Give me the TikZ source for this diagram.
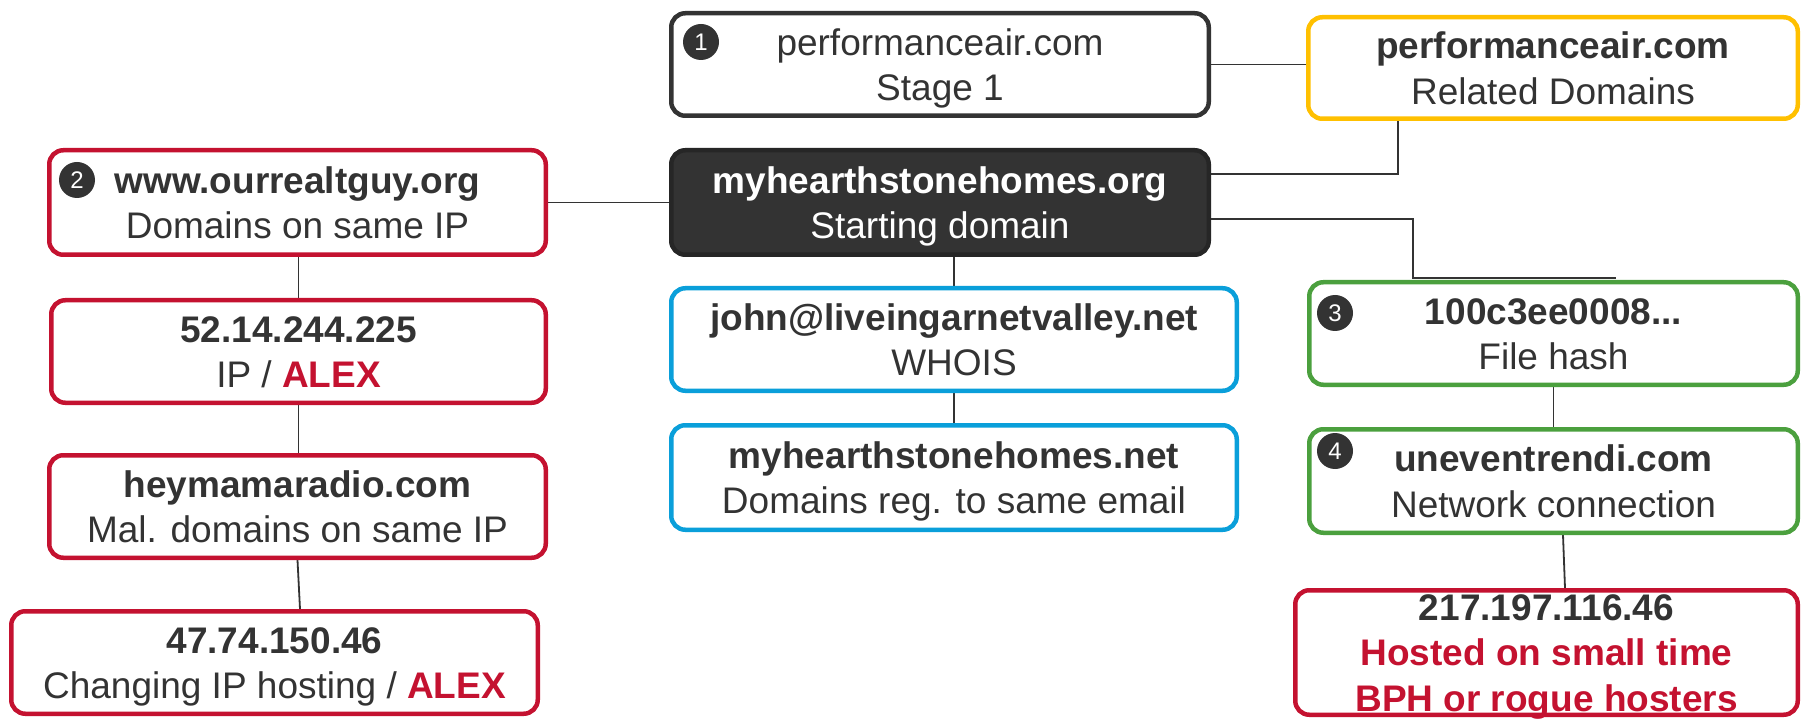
\documentclass[tikz,border=0pt]{standalone}
\usepackage{fontspec}
\setmainfont{Liberation Sans}
\definecolor{tg}{HTML}{333333}
\definecolor{cred}{HTML}{C41230}
\definecolor{cblue}{HTML}{0A9FDA}
\definecolor{cgreen}{HTML}{4BA03E}
\definecolor{cyel}{HTML}{FFC000}
\definecolor{cdark}{HTML}{333333}
\definecolor{cdarkb}{HTML}{262626}
\newcommand\tl[1]{\raisebox{0pt}[0.72em][0pt]{#1}}
\pgfdeclarelayer{bg}
\pgfsetlayers{bg,main}
\begin{document}
\begin{tikzpicture}[x=1pt,y=-1pt,
  box/.style={rounded corners=14pt, line width=4.5pt, fill=white, align=center,
    inner sep=0pt, text=tg, font=\fontsize{37}{45.5}\selectfont},
  conn/.style={draw=tg, line width=1.8pt},
  num/.style={circle, fill=cdark, text=white, minimum size=36pt, inner sep=0pt,
    font=\fontsize{24}{24}\selectfont}]
\useasboundingbox (0,0) rectangle (1802,719);

% top row
\node[box, draw=tg, minimum width=537.5pt, minimum height=102.5pt] (s1) at (940,64.5)
  {\tl{performanceair.com}\\\tl{Stage 1}};
\node[num] (n1) at (701,42) {1};
\node[box, draw=cyel, minimum width=489.5pt, minimum height=101.5pt] (yel) at (1553,68)
  {\tl{\textbf{performanceair.com}}\\\tl{Related Domains}};

% middle column
\node[box, draw=cdarkb, fill=cdark, text=white, minimum width=537.5pt, minimum height=104.5pt] (dk) at (940,202.5)
  {\tl{\textbf{myhearthstonehomes.org}}\\\tl{Starting domain}};
\node[box, draw=cblue, minimum width=565.5pt, minimum height=102.5pt] (b1) at (954,339.5)
  {\tl{\textbf{john@liveingarnetvalley.net}}\\\tl{WHOIS}};
\node[box, draw=cblue, minimum width=565.5pt, minimum height=104.5pt] (b2) at (954,477.5)
  {\tl{\textbf{myhearthstonehomes.net}}\\\tl{Domains reg. to same email}};

% left column
\node[box, draw=cred, minimum width=496.5pt, minimum height=104.5pt] (r2) at (297.5,202.5)
  {\tl{\textbf{www.ourrealtguy.org}}\\\tl{Domains on same IP}};
\node[num] (n2) at (77,180) {2};
\node[box, draw=cred, minimum width=494.5pt, minimum height=102.5pt] (ip) at (298.5,351.5)
  {\tl{\textbf{52.14.244.225}}\\\tl{IP / \textbf{\color{cred}ALEX}}};
\node[box, draw=cred, minimum width=496.5pt, minimum height=102.5pt] (hey) at (297.5,506.5)
  {\tl{\textbf{heymamaradio.com}}\\\tl{Mal. domains on same IP}};
\node[box, draw=cred, minimum width=526.5pt, minimum height=102.5pt] (ax) at (274.5,662.5)
  {\tl{\textbf{47.74.150.46}}\\\tl{Changing IP hosting / \textbf{\color{cred}ALEX}}};

% right column
\node[box, draw=cgreen, minimum width=488.5pt, minimum height=102.5pt] (g3) at (1553.5,333.5)
  {\tl{\textbf{100c3ee0008...}}\\\tl{File hash}};
\node[num] (n3) at (1335,313) {3};
\node[box, draw=cgreen, minimum width=488.5pt, minimum height=103.5pt] (g4) at (1553.5,481)
  {\tl{\textbf{uneventrendi.com}}\\\tl{Network connection}};
\node[num] (n4) at (1335,451) {4};
\node[box, draw=cred, minimum width=502.5pt, minimum height=124.5pt] (bph) at (1546.5,652.5)
  {\tl{\textbf{217.197.116.46}}\\\tl{\textbf{\color{cred}Hosted on small time}}\\\tl{\textbf{\color{cred}BPH or rogue hosters}}};

\begin{pgfonlayer}{bg}
\fill[white] (0,0) rectangle (1802,719);
\draw[conn] (s1.east) -- (s1.east -| yel.west);
\draw[conn] ([yshift=28.5pt]dk.east) -| ([xshift=-155pt]yel.south);
\draw[conn] (r2.east) -- (dk.west);
\draw[conn] (ip.north |- r2.south) -- (ip.north);
\draw[conn] (ip.south) -- (ip.south |- hey.north);
\draw[conn] (hey.south) -- ([xshift=25.5pt]ax.north);
\draw[conn] (b1.north |- dk.south) -- (b1.north);
\draw[conn] (b1.south) -- (b2.north);
\draw[conn] (g3.south) -- (g4.north);
\draw[conn] ([xshift=9.5pt]g4.south) -- ([xshift=18.5pt]bph.north);
\end{pgfonlayer}
\draw[conn] ([yshift=-16.5pt]dk.east) -| ([xshift=-140.5pt,yshift=2pt]g3.north) -- ([xshift=62.5pt,yshift=2pt]g3.north);
\end{tikzpicture}
\end{document}
